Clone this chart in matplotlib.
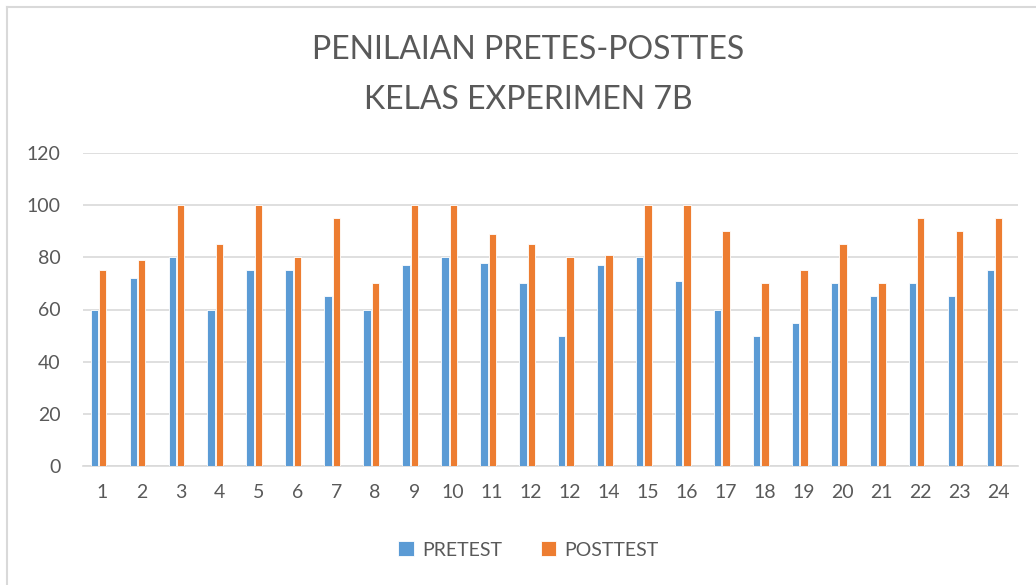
import numpy as np
import matplotlib
matplotlib.use("Agg")
import matplotlib.pyplot as plt
from matplotlib.lines import Line2D

plt.rcParams['font.family'] = ['Lato', 'DejaVu Sans']

labels = ["1", "2", "3", "4", "5", "6", "7", "8", "9", "10", "11", "12",
          "12", "14", "15", "16", "17", "18", "19", "20", "21", "22", "23", "24"]
pretest = [60, 72, 80, 60, 75, 75, 65, 60, 77, 80, 78, 70,
           50, 77, 80, 71, 60, 50, 55, 70, 65, 70, 65, 75]
posttest = [75, 79, 100, 85, 100, 80, 95, 70, 100, 100, 89, 85,
            80, 81, 100, 100, 90, 70, 75, 85, 70, 95, 90, 95]

blue = "#5b9bd5"
orange = "#ed7d31"
text_col = "#595959"

W, H = 1036, 585
fig = plt.figure(figsize=(W / 100, H / 100), dpi=100)
ax = fig.add_axes([83 / W, 1 - 466 / H, 935 / W, 313 / H])

x = np.arange(len(labels))
w = 0.19
# excel group leaves an empty third slot, so bars sit left of the tick
ax.bar(x - 0.21, pretest, w, color=blue, edgecolor="white", linewidth=0.6, label="PRETEST", zorder=3)
ax.bar(x + 0.005, posttest, w, color=orange, edgecolor="white", linewidth=0.6, label="POSTTEST", zorder=3)

ax.set_xlim(-0.5, len(labels) - 0.5)
ax.set_ylim(0, 120)
ax.set_yticks(range(0, 121, 20))
ax.set_xticks(x)
ax.set_xticklabels(labels)
ax.yaxis.grid(True, color="#d9d9d9", linewidth=1.2, zorder=0)
for s in ["top", "right", "left"]:
    ax.spines[s].set_visible(False)
ax.spines["bottom"].set_color("#d9d9d9")
ax.spines["bottom"].set_linewidth(1.2)
ax.tick_params(axis="both", length=0, labelsize=14, colors=text_col)
ax.tick_params(axis="x", pad=13)
ax.tick_params(axis="y", pad=16)

fig.text(0.51, 1 - 50 / H, "PENILAIAN PRETES-POSTTES", ha="center", va="center",
         fontsize=23, color=text_col)
fig.text(0.51, 1 - 100 / H, "KELAS EXPERIMEN 7B", ha="center", va="center",
         fontsize=23, color=text_col)

fig.legend(loc="center", bbox_to_anchor=(0.51, 1 - 550 / H), ncol=2, frameon=False,
           fontsize=14, handlelength=0.8, handleheight=0.8, columnspacing=2.0,
           handletextpad=0.4, labelcolor=text_col)

# chart border (top and left edges visible in the crop)
fig.add_artist(Line2D([7 / W, 1], [1 - 7 / H, 1 - 7 / H], transform=fig.transFigure,
                      color="#d9d9d9", linewidth=1.5))
fig.add_artist(Line2D([7 / W, 7 / W], [0, 1 - 7 / H], transform=fig.transFigure,
                      color="#d9d9d9", linewidth=1.5))

fig.savefig("out.png", dpi=100)
